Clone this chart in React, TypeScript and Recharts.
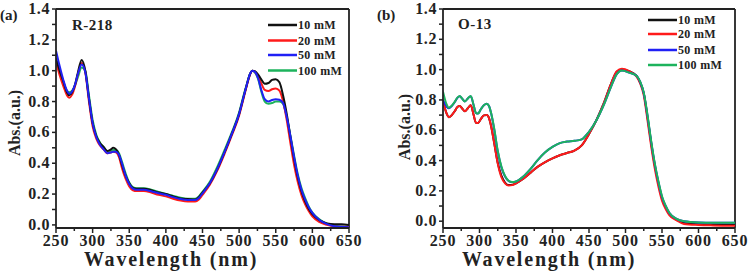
import { LineChart, Line, XAxis, YAxis, ReferenceLine } from 'recharts'

// wavelengths (nm) and absorbance for R-218 (panel a)
const wlA = [250, 255, 260, 265, 268, 272, 276, 280, 285, 290, 295, 300, 305, 310, 315, 320, 325, 328, 332, 336, 340, 345, 350, 355, 360, 370, 380, 390, 400, 410, 420, 430, 440, 445, 450, 460, 470, 480, 490, 500, 505, 510, 515, 518, 522, 526, 530, 535, 540, 545, 550, 555, 560, 565, 570, 575, 580, 585, 590, 595, 600, 610, 620, 630, 640, 650]
const r218_10 = [1.08, 1.0, 0.93, 0.86, 0.84, 0.86, 0.91, 0.99, 1.07, 1.0, 0.82, 0.66, 0.575, 0.53, 0.505, 0.48, 0.49, 0.5, 0.49, 0.455, 0.39, 0.32, 0.27, 0.24, 0.235, 0.235, 0.225, 0.21, 0.2, 0.185, 0.172, 0.168, 0.165, 0.18, 0.21, 0.27, 0.36, 0.47, 0.59, 0.72, 0.81, 0.9, 0.98, 1.0, 0.995, 0.975, 0.945, 0.915, 0.92, 0.94, 0.945, 0.925, 0.84, 0.72, 0.57, 0.43, 0.31, 0.22, 0.155, 0.105, 0.07, 0.03, 0.01, 0.005, 0.005, 0.0]
const r218_20 = [1.06, 0.97, 0.9, 0.84, 0.825, 0.845, 0.9, 0.98, 1.05, 0.99, 0.8, 0.64, 0.56, 0.515, 0.49, 0.465, 0.47, 0.475, 0.47, 0.44, 0.37, 0.3, 0.25, 0.225, 0.22, 0.22, 0.21, 0.195, 0.185, 0.17, 0.158, 0.152, 0.152, 0.165, 0.195, 0.26, 0.35, 0.46, 0.58, 0.71, 0.8, 0.895, 0.975, 1.0, 0.99, 0.96, 0.92, 0.875, 0.868, 0.88, 0.885, 0.87, 0.8, 0.68, 0.53, 0.39, 0.28, 0.195, 0.135, 0.09, 0.055, 0.018, 0.0, -0.01, -0.012, -0.012]
const r218_50 = [1.13, 1.03, 0.94, 0.87, 0.85, 0.865, 0.91, 0.98, 1.04, 0.99, 0.82, 0.66, 0.57, 0.52, 0.49, 0.465, 0.47, 0.475, 0.475, 0.455, 0.4, 0.32, 0.265, 0.235, 0.228, 0.228, 0.218, 0.205, 0.195, 0.18, 0.168, 0.162, 0.162, 0.175, 0.205, 0.27, 0.36, 0.47, 0.59, 0.72, 0.81, 0.9, 0.98, 1.0, 0.99, 0.95, 0.88, 0.815, 0.8, 0.81, 0.815, 0.812, 0.79, 0.7, 0.575, 0.44, 0.32, 0.23, 0.165, 0.115, 0.078, 0.03, 0.005, -0.008, -0.012, -0.015]
const r218_100 = [1.06, 0.99, 0.92, 0.87, 0.86, 0.87, 0.905, 0.96, 1.02, 1.0, 0.84, 0.68, 0.585, 0.535, 0.505, 0.48, 0.48, 0.485, 0.485, 0.465, 0.41, 0.335, 0.275, 0.245, 0.238, 0.238, 0.228, 0.213, 0.2, 0.188, 0.176, 0.17, 0.17, 0.185, 0.215, 0.28, 0.375, 0.485, 0.6, 0.73, 0.82, 0.905, 0.98, 1.0, 0.985, 0.945, 0.87, 0.8, 0.785, 0.79, 0.8, 0.8, 0.785, 0.7, 0.58, 0.45, 0.33, 0.24, 0.175, 0.12, 0.08, 0.035, 0.008, -0.005, -0.01, -0.012]

// wavelengths (nm) and absorbance for O-13 (panel b)
const wlB = [250, 255, 258, 262, 266, 270, 273, 276, 280, 284, 288, 292, 295, 298, 302, 306, 310, 313, 316, 320, 325, 330, 335, 340, 345, 350, 360, 370, 380, 390, 400, 410, 420, 430, 440, 450, 460, 470, 480, 488, 495, 505, 515, 520, 525, 530, 535, 540, 545, 550, 555, 560, 570, 580, 600, 620, 650]
const o13_10 = [0.79, 0.71, 0.685, 0.7, 0.725, 0.755, 0.76, 0.745, 0.725, 0.745, 0.765, 0.7, 0.65, 0.648, 0.675, 0.698, 0.7, 0.68, 0.625, 0.52, 0.385, 0.3, 0.255, 0.238, 0.24, 0.25, 0.28, 0.32, 0.36, 0.39, 0.415, 0.435, 0.45, 0.465, 0.5, 0.575, 0.665, 0.775, 0.905, 0.985, 1.0, 0.99, 0.96, 0.915, 0.845, 0.69, 0.52, 0.37, 0.25, 0.15, 0.09, 0.048, 0.01, -0.012, -0.02, -0.022, -0.025]
const o13_20 = [0.79, 0.71, 0.685, 0.7, 0.725, 0.755, 0.76, 0.745, 0.725, 0.745, 0.765, 0.7, 0.65, 0.648, 0.675, 0.698, 0.7, 0.68, 0.625, 0.52, 0.38, 0.29, 0.25, 0.235, 0.238, 0.25, 0.28, 0.32, 0.36, 0.39, 0.415, 0.435, 0.45, 0.465, 0.5, 0.575, 0.665, 0.775, 0.905, 0.99, 1.005, 0.99, 0.955, 0.91, 0.83, 0.67, 0.5, 0.35, 0.23, 0.135, 0.08, 0.04, 0.005, -0.018, -0.025, -0.028, -0.03]
const o13_50 = [0.8, 0.755, 0.745, 0.76, 0.785, 0.815, 0.825, 0.81, 0.79, 0.81, 0.825, 0.765, 0.715, 0.71, 0.74, 0.765, 0.775, 0.76, 0.71, 0.61, 0.46, 0.355, 0.295, 0.265, 0.258, 0.262, 0.295, 0.345, 0.405, 0.455, 0.49, 0.515, 0.525, 0.53, 0.54, 0.59, 0.665, 0.765, 0.885, 0.97, 0.995, 0.98, 0.96, 0.92, 0.845, 0.7, 0.53, 0.38, 0.26, 0.16, 0.1, 0.055, 0.015, 0.0, -0.008, -0.01, -0.01]
const o13_100 = [0.855, 0.77, 0.748, 0.762, 0.787, 0.817, 0.826, 0.81, 0.79, 0.81, 0.826, 0.765, 0.715, 0.71, 0.74, 0.765, 0.775, 0.76, 0.712, 0.615, 0.465, 0.36, 0.298, 0.266, 0.258, 0.262, 0.295, 0.345, 0.405, 0.455, 0.49, 0.515, 0.525, 0.53, 0.54, 0.59, 0.665, 0.765, 0.885, 0.97, 0.995, 0.98, 0.96, 0.922, 0.85, 0.705, 0.535, 0.385, 0.265, 0.165, 0.102, 0.056, 0.015, 0.0, -0.008, -0.01, -0.01]

const concentrations = ['10 mM', '20 mM', '50 mM', '100 mM']
const COLORS = ['#111111', '#ff1a1a', '#2020f5', '#1db35c']

const xTicks = [250, 275, 300, 325, 350, 375, 400, 425, 450, 475, 500, 525, 550, 575, 600, 625, 650]
const yTicks = [0, 0.1, 0.2, 0.3, 0.4, 0.5, 0.6, 0.7, 0.8, 0.9, 1.0, 1.1, 1.2, 1.3, 1.4]

const FONT = 'Liberation Serif, DejaVu Serif, serif'
const INK = '#222'

const txt = (size: number, extra: Record<string, any> = {}) => ({
  fontFamily: FONT,
  fontWeight: 700,
  fontSize: size,
  fill: INK,
  ...extra,
})

const toRows = (wl: number[], series: number[][]) =>
  wl.map((w, i) => {
    const row: Record<string, number> = { wl: w }
    series.forEach((s, k) => {
      row[concentrations[k]] = s[i]
    })
    return row
  })

const XTick = (props: any) => {
  const { x, y, payload } = props
  const major = payload.value % 50 === 0
  return (
    <g>
      <line x1={x} y1={y} x2={x} y2={y + (major ? 5 : 3)} stroke={INK} strokeWidth={1.5} />
      {major && (
        <text x={x} y={y + 18} textAnchor="middle" style={txt(16, { letterSpacing: 0.8 })}>
          {payload.value}
        </text>
      )}
    </g>
  )
}

const YTick = (props: any) => {
  const { x, y, payload } = props
  const major = Math.round(payload.value * 10) % 2 === 0
  return (
    <g>
      <line x1={x} y1={y} x2={x - 4} y2={y} stroke={INK} strokeWidth={1.5} />
      {major && (
        <text x={x - 6} y={y + 5} textAnchor="end" style={txt(16, { letterSpacing: 0.6 })}>
          {payload.value.toFixed(1)}
        </text>
      )}
    </g>
  )
}

interface PanelProps {
  data: Record<string, number>[]
  yMin: number
  left: number
  right: number
  order: number[]
}

function Panel({ data, yMin, left, right, order }: PanelProps) {
  return (
    <LineChart width={376} height={272} data={data} margin={{ top: 9, right, bottom: 0, left: left - 40 }}>
      <XAxis
        dataKey="wl"
        type="number"
        domain={[250, 650]}
        ticks={xTicks}
        interval={0}
        allowDataOverflow
        height={44}
        tickSize={0}
        tickMargin={0}
        tick={<XTick />}
        axisLine={{ stroke: INK, strokeWidth: 1.8 }}
      />
      <YAxis
        type="number"
        domain={[yMin, 1.4]}
        ticks={yTicks}
        interval={0}
        allowDataOverflow
        width={40}
        tickSize={0}
        tickMargin={0}
        tick={<YTick />}
        axisLine={{ stroke: INK, strokeWidth: 1.8 }}
      />
      <ReferenceLine y={1.4} stroke={INK} strokeWidth={1.8} />
      <ReferenceLine x={650} stroke={INK} strokeWidth={1.8} />
      {order.map(k => (
        <Line
          key={concentrations[k]}
          dataKey={concentrations[k]}
          type="monotone"
          stroke={COLORS[k]}
          strokeWidth={2}
          dot={false}
          isAnimationActive={false}
        />
      ))}
    </LineChart>
  )
}

function Legend({ x, ys }: { x: number; ys: number[] }) {
  return (
    <g>
      {concentrations.map((c, i) => (
        <g key={c}>
          <line x1={x} y1={ys[i]} x2={x + 29} y2={ys[i]} stroke={COLORS[i]} strokeWidth={2.5} />
          <text x={x + 30} y={ys[i] + 4} style={txt(12, { letterSpacing: 0.3 })}>
            {c}
          </text>
        </g>
      ))}
    </g>
  )
}

export default function App() {
  const dataA = toRows(wlA, [r218_10, r218_20, r218_50, r218_100])
  const dataB = toRows(wlB, [o13_10, o13_20, o13_50, o13_100])

  return (
    <div style={{ position: 'absolute', left: 0, top: 0, width: 752, height: 272, background: '#fff' }}>
      <div style={{ position: 'absolute', left: 0, top: 0 }}>
        <Panel data={dataA} yMin={-0.02} left={56} right={27} order={[3, 1, 0, 2]} />
      </div>
      <div style={{ position: 'absolute', left: 376, top: 0 }}>
        <Panel data={dataB} yMin={-0.045} left={67} right={17} order={[0, 1, 2, 3]} />
      </div>
      <svg width={752} height={272} style={{ position: 'absolute', left: 0, top: 0, pointerEvents: 'none' }}>
        <text x={0} y={20} style={txt(15)}>(a)</text>
        <text x={72} y={30} style={txt(15, { letterSpacing: 0.5 })}>R-218</text>
        <text x={20} y={123} textAnchor="middle" transform="rotate(-90 20 123)" style={txt(16)}>Abs.(a.u.)</text>
        <text x={171} y={266} textAnchor="middle" style={txt(20, { letterSpacing: 1.8 })}>Wavelength (nm)</text>
        <Legend x={268} ys={[25, 40.5, 55, 70.5]} />

        <text x={377} y={20} style={txt(15)}>(b)</text>
        <text x={458} y={29} style={txt(15, { letterSpacing: 0.5 })}>O-13</text>
        <text x={410} y={127} textAnchor="middle" transform="rotate(-90 410 127)" style={txt(16)}>Abs.(a.u.)</text>
        <text x={549} y={266} textAnchor="middle" style={txt(20, { letterSpacing: 1.8 })}>Wavelength (nm)</text>
        <Legend x={648} ys={[20, 34, 50, 65]} />
      </svg>
    </div>
  )
}
